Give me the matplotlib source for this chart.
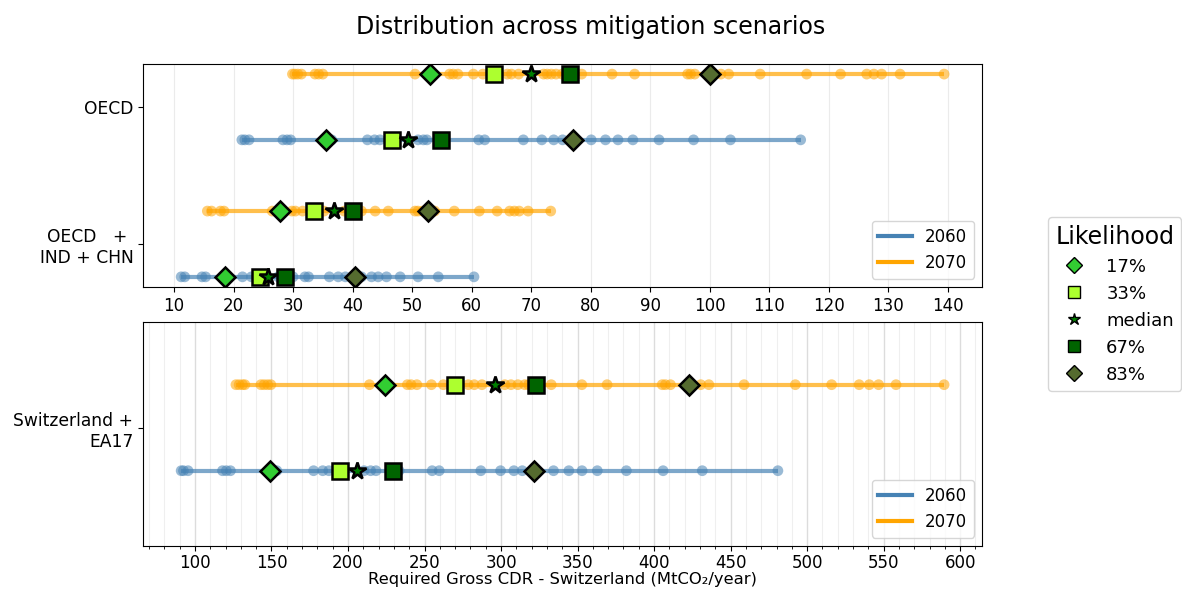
import numpy as np
import matplotlib
matplotlib.use("Agg")
import matplotlib.pyplot as plt
from matplotlib.lines import Line2D
from matplotlib.ticker import MultipleLocator

# scenario values (MtCO2/year)
oecd_2060 = [21.4, 21.9, 22.6, 28.3, 29.0, 29.6, 36.5, 42.5, 43.7, 44.6, 51.0, 51.9,
             52.5, 61.2, 62.2, 68.7, 71.8, 73.8, 75.3, 77.5, 80.1, 82.5, 84.6, 87.1,
             91.5, 97.3, 103.5, 115.3]
oecd_2070 = [29.9, 30.3, 30.8, 31.4, 33.7, 34.3, 35.0, 50.5, 56.3, 56.9, 57.7, 60.3,
             61.9, 66.0, 66.7, 67.9, 72.1, 72.7, 73.4, 74.2, 75.2, 76.5, 78.5, 83.6,
             87.4, 96.3, 96.8, 97.5, 101.9, 103.2, 108.5, 116.3, 122.0, 126.4, 127.6,
             128.9, 132.0, 139.4]
big_2060 = [11.2, 11.8, 14.7, 15.3, 21.5, 23.0, 27.5, 30.0, 32.0, 32.6, 36.1, 37.6,
            38.8, 41.5, 43.2, 44.3, 45.7, 48.0, 51.0, 54.4, 60.4]
big_2070 = [15.6, 16.3, 17.8, 18.4, 26.5, 29.8, 30.4, 31.6, 35.2, 38.6, 41.5, 43.8,
            46.0, 50.5, 51.0, 51.8, 53.8, 57.1, 61.3, 64.3, 66.4, 67.2, 68.0, 69.5, 73.3]
swiss_2060 = [91.0, 92.5, 95.5, 118.0, 120.5, 123.2, 153.5, 177.5, 183.5, 187.5, 210.5,
              214.8, 218.3, 233.4, 255.0, 259.6, 286.8, 299.7, 308.4, 313.9, 334.3,
              344.3, 352.9, 362.9, 381.9, 405.9, 431.5, 480.9]
swiss_2070 = [126.8, 128.9, 131.1, 132.6, 143.1, 145.2, 147.5, 149.6, 214.0, 238.8,
              241.2, 245.0, 254.5, 262.3, 278.6, 282.5, 287.5, 302.5, 306.5, 311.0,
              315.5, 318.0, 332.8, 352.8, 369.3, 405.3, 407.4, 410.7, 430.5, 435.8,
              458.8, 492.3, 516.0, 534.0, 540.6, 546.7, 558.1, 589.5]

# likelihood markers: 17%, 33%, median, 67%, 83%
q_oecd_2060 = [35.5, 46.7, 49.3, 54.8, 77.0]
q_oecd_2070 = [53.0, 63.8, 70.0, 76.5, 100.0]
q_big_2060 = [18.6, 24.4, 25.8, 28.7, 40.4]
q_big_2070 = [27.8, 33.6, 36.8, 40.1, 52.6]
q_swiss_2060 = [149.0, 195.0, 206.0, 229.2, 321.6]
q_swiss_2070 = [224.2, 270.2, 296.2, 322.8, 422.5]

years = ["2060", "2070"]
year_colors = {"2060": "steelblue", "2070": "orange"}
q_labels = ["17%", "33%", "median", "67%", "83%"]
q_markers = ["D", "s", "*", "s", "D"]
q_colors = ["limegreen", "greenyellow", "green", "darkgreen", "darkolivegreen"]
q_sizes = [10, 12, 13, 12, 10]
q_leg_sizes = [8, 8, 9, 8, 8]

OFF = 0.24


def draw_row(ax, y, vals, quants, year):
    c = year_colors[year]
    ax.plot([min(vals), max(vals)], [y, y], color=c, lw=3, alpha=0.7, zorder=2,
            solid_capstyle="butt")
    ax.scatter(vals, [y] * len(vals), s=60, color=c, alpha=0.55, zorder=3,
               edgecolors="none")
    for q, m, col, ms in zip(quants, q_markers, q_colors, q_sizes):
        ax.plot(q, y, marker=m, color=col, markersize=ms, mec="black", mew=1.8,
                zorder=5, linestyle="none")


plt.rcParams["font.family"] = "DejaVu Sans"
fig = plt.figure(figsize=(11.82, 5.9), dpi=100)
ax1 = fig.add_axes([0.121, 0.5136, 0.710, 0.378])
ax2 = fig.add_axes([0.121, 0.0746, 0.710, 0.3797])

# top panel
draw_row(ax1, 1 + OFF, oecd_2070, q_oecd_2070, "2070")
draw_row(ax1, 1 - OFF, oecd_2060, q_oecd_2060, "2060")
draw_row(ax1, 0 + OFF, big_2070, q_big_2070, "2070")
draw_row(ax1, 0 - OFF, big_2060, q_big_2060, "2060")
ax1.set_yticks([0, 1])
ax1.set_yticklabels(["OECD   + \nIND + CHN", "OECD"], fontsize=12.3)
ax1.xaxis.set_major_locator(MultipleLocator(10))
ax1.grid(axis="x", color="#ebebeb", lw=0.8)
ax1.set_axisbelow(True)
ax1.tick_params(axis="x", labelsize=12)

# bottom panel
draw_row(ax2, OFF, swiss_2070, q_swiss_2070, "2070")
draw_row(ax2, -OFF, swiss_2060, q_swiss_2060, "2060")
ax2.set_ylim(-0.66, 0.59)
ax2.set_yticks([0])
ax2.set_yticklabels(["Switzerland +\nEA17"], fontsize=12.3)
ax2.xaxis.set_major_locator(MultipleLocator(50))
ax2.xaxis.set_minor_locator(MultipleLocator(10))
ax2.grid(axis="x", which="major", color="#dcdcdc", lw=1.0)
ax2.grid(axis="x", which="minor", color="#efefef", lw=0.8)
ax2.set_axisbelow(True)
ax2.tick_params(axis="x", which="major", labelsize=12, pad=2.5)
ax2.set_xlabel("Required Gross CDR - Switzerland (MtCO\u2082/year)", fontsize=11.8,
               labelpad=0)

# year legends inside each panel
year_handles = [Line2D([0], [0], color=year_colors[y], lw=3) for y in years]
for ax in (ax1, ax2):
    ax.legend(year_handles, years, loc="lower right", fontsize=12)

# likelihood legend outside
lk_handles = [Line2D([0], [0], marker=m, color=c, mec="black", linestyle="none",
                     markersize=s)
              for m, c, s in zip(q_markers, q_colors, q_leg_sizes)]
fig.legend(lk_handles, q_labels, title="Likelihood", loc="upper left",
           bbox_to_anchor=(0.879, 0.647), fontsize=13, title_fontsize=17)

fig.suptitle("Distribution across mitigation scenarios", fontsize=17, y=0.975)

fig.savefig("out.png", dpi=100)
